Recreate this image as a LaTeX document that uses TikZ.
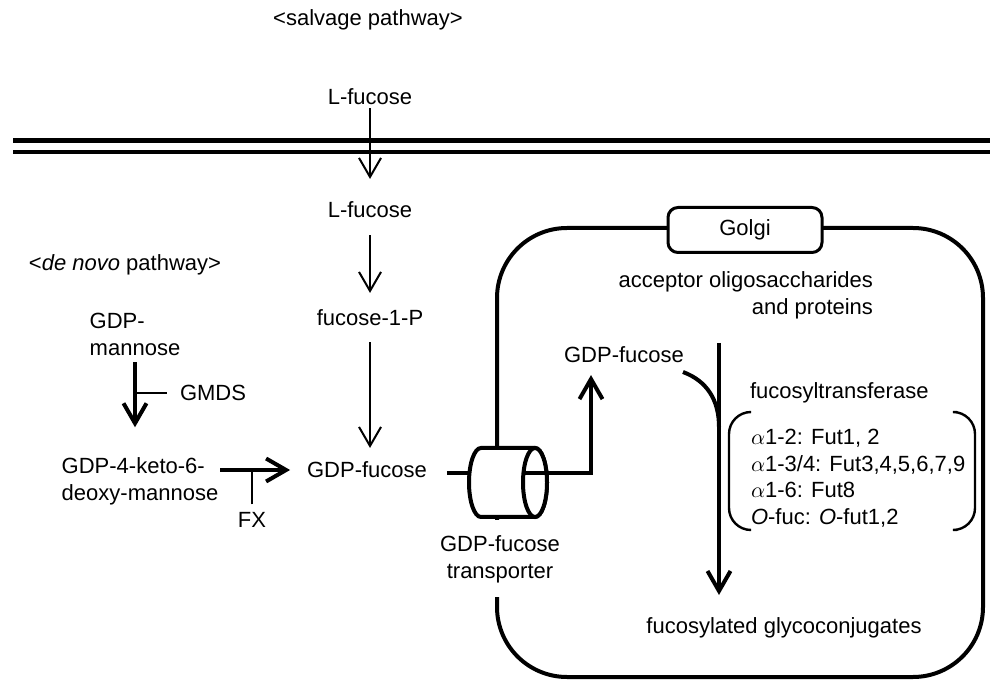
\documentclass[tikz,border=0pt]{standalone}
\usepackage{fontspec}
\setmainfont{Liberation Sans}
\usetikzlibrary{arrows.meta,calc}
\begin{document}
\begin{tikzpicture}[x=0.5pt,y=-0.5pt,
  lbl/.style={inner sep=0pt, outer sep=0pt, font=\fontsize{11}{13.5}\selectfont},
  tarr/.style={line width=1pt, -{Straight Barb[length=9.5pt,width=11pt]}},
  karr/.style={line width=2pt, -{Straight Barb[length=10pt,width=11.5pt]}},
  tick/.style={line width=1pt},
  wall/.style={line width=2pt},
  cyl/.style={line width=2pt},
  paren/.style={line width=1.2pt}]
\useasboundingbox (0,0) rectangle (990,683);

% membrane
\draw[line width=2.5pt] (13,141) -- (990,141);
\draw[line width=1.8pt] (13,152) -- (990,152);

% salvage pathway
\node[lbl] (salv) at (368,20) {<salvage pathway>};
\node[lbl] (lf1) at (370,97) {L-fucose};
\node[lbl] (lf2) at (370,210) {L-fucose};
\node[lbl] (f1p) at (370,318) {fucose-1-P};
\node[lbl] (gdpf) at (367,470) {GDP-fucose};
\draw[tarr] ([yshift=-1.5pt]lf1.south) -- ([yshift=11.5pt]lf2.north);
\draw[tarr] ([yshift=-8.5pt]lf2.south) -- ([yshift=8.5pt]f1p.north);
\draw[tarr] ([yshift=-8pt]f1p.south) -- ([yshift=7pt]f1p.south |- gdpf.north);

% de novo pathway
\node[lbl] (dn) at (125,265) {<\textit{de novo} pathway>};
\node[lbl, align=left] (gdpm) at (135,334) {GDP-\\mannose};
\node[lbl, anchor=west] (gmds) at (180,393) {GMDS};
\node[lbl, align=left] (gdpk) at (140,481) {GDP-4-keto-6-\\deoxy-mannose};
\node[lbl] (fx) at (252,520) {FX};
\draw[karr] ([yshift=-3.5pt]gdpm.south) -- ++(0,65);
\draw[tick] (gmds.west -| gdpm.south) -- ([xshift=-6.5pt]gmds.west);
\draw[karr] (gdpk.east |- gdpf.west) ++(2,0) -- ([xshift=-8.5pt]gdpf.west);
\draw[tick] ([yshift=4pt]fx.north) -- (fx.north |- gdpf.west);

% Golgi
\draw[wall, rounded corners=35pt] (497,597) -- (497,677) -- (983,677) -- (983,228) -- (497,228) -- (497,520);
\node[lbl, draw, line width=1.5pt, fill=white, rounded corners=5pt,
      minimum width=77pt, minimum height=22.5pt] (golgi) at (745,230) {Golgi};
\node[lbl, align=right, anchor=east] (acc) at (873,295) {acceptor oligosaccharides\\and proteins};
\node[lbl] (gdpf2) at (624,355) {GDP-fucose};
\node[lbl, anchor=west] (ft) at (750,393) {fucosyltransferase};
\node[lbl, align=left, anchor=west, font=\fontsize{11}{13.25}\selectfont] (list) at (751,478)
  {$\alpha$1-2: Fut1, 2\\$\alpha$1-3/4: Fut3,4,5,6,7,9\\$\alpha$1-6: Fut8\\\textit{O}-fuc: \textit{O}-fut1,2};
\node[lbl] (fg) at (784,628) {fucosylated glycoconjugates};
\node[lbl, align=center] (tl) at (500,559) {GDP-fucose\\transporter};

% enzyme brackets
\draw[paren, rounded corners=11pt] (750,412) -- (729,412) -- (729,530) -- (750,530);
\draw[paren, rounded corners=11pt] (957,412) -- (975,412) -- (975,530) -- (957,530);

% fucosylation arrow
\coordinate (ftop) at (719,343);
\coordinate (fbot) at (719,595);
\coordinate (cs) at (683,372);
\coordinate (cj) at (719,427);
\draw[karr] (ftop) -- (fbot);
\draw[line width=2pt] (cs) .. controls (707,381) and (719,400) .. (cj);

% transporter
\coordinate (cylL) at (470,473);
\coordinate (tin) at (523.5,473);
\draw[line width=2pt] ([xshift=10pt]gdpf.east) ++(0,3) -- (cylL);
\filldraw[cyl, fill=white] (535,448) -- (481,448)
  arc[start angle=90, end angle=270, x radius=6pt, y radius=17.25pt] -- (535,517)
  arc[start angle=270, end angle=450, x radius=6pt, y radius=17.25pt] -- cycle;
\draw[cyl, fill=white] (535,482.5) ellipse[x radius=6pt, y radius=17.25pt];
\draw[karr] (tin) -- (591,473) -- ([yshift=-6pt]gdpf2.south -| 591,0);
\end{tikzpicture}
\end{document}
